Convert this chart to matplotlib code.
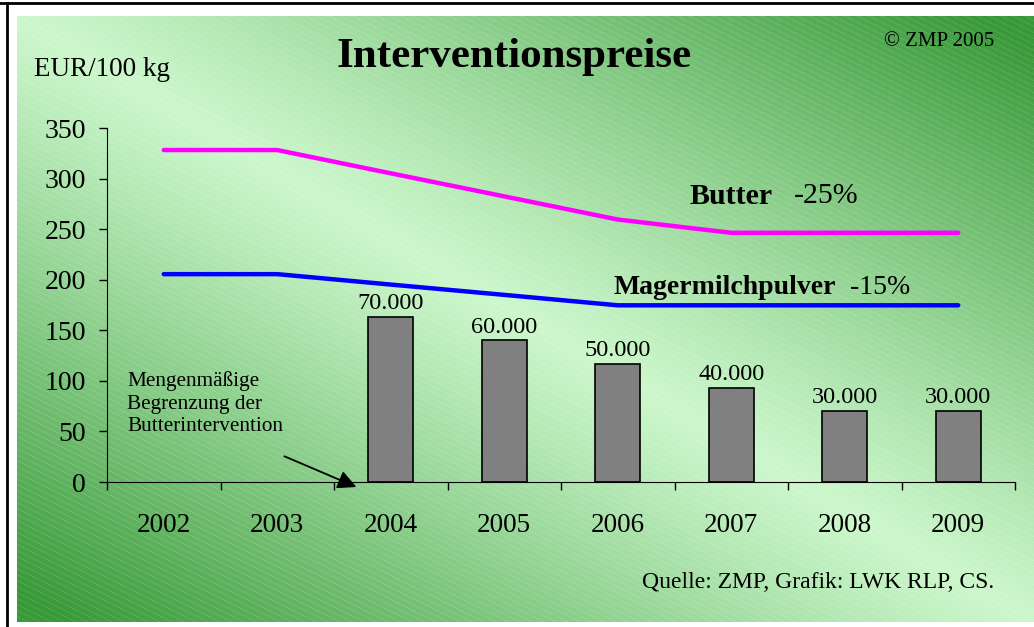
import matplotlib
matplotlib.use('Agg')
import matplotlib.pyplot as plt
import numpy as np
from matplotlib.lines import Line2D

plt.rcParams['font.family'] = ['Liberation Serif', 'DejaVu Serif']

# Data
years = ['2002', '2003', '2004', '2005', '2006', '2007', '2008', '2009']
butter = [328.2, 328.2, 305.2, 282.4, 259.5, 246.4, 246.4, 246.4]
smp = [205.5, 205.5, 195.2, 185.0, 174.7, 174.7, 174.7, 174.7]
bar_years = ['2004', '2005', '2006', '2007', '2008', '2009']
bar_tonnes = [70000, 60000, 50000, 40000, 30000, 30000]

W, H = 1034, 627
fig = plt.figure(figsize=(W / 100, H / 100), dpi=100)
fig.patch.set_facecolor('white')

# --- background: diagonal green gradient with faint stripes ---
bx0, by0, bx1, by1 = 17, 16, 1034, 622
bw, bh = bx1 - bx0, by1 - by0
xx, yy = np.meshgrid(np.arange(bw), np.arange(bh))
t = np.abs(xx / bw - yy / bh)
t = np.clip(t * 1.05, 0, 1) ** 1.1
light = np.array([0.80, 0.97, 0.80])
dark = np.array([0.22, 0.60, 0.22])
img = light + (dark - light) * t[..., None]
stripe = ((yy - 0.5 * xx).astype(int) % 6) == 0
img[stripe] = img[stripe] * 0.88 + 0.12
bg = fig.add_axes([bx0 / W, 1 - by1 / H, bw / W, bh / H])
bg.imshow(img, aspect='auto', interpolation='nearest')
bg.axis('off')

# frame lines
fig.add_artist(Line2D([0, 1], [1 - 3 / H, 1 - 3 / H], color='black', lw=2))
fig.add_artist(Line2D([6.5 / W, 6.5 / W], [0, 1 - 3 / H], color='black', lw=2))

# --- main axes ---
ax = fig.add_axes([107 / W, 1 - 482 / H, (1015 - 107) / W, (482 - 128) / H])
ax.patch.set_alpha(0)
x = np.arange(len(years))
ax.plot(x, butter, color='#ff00ff', lw=3.2, solid_capstyle='round', zorder=4)
ax.plot(x, smp, color='#0000ff', lw=3.2, solid_capstyle='round', zorder=4)
ax.set_xlim(-0.5, len(years) - 0.5)
ax.set_ylim(0, 350)
ax.set_yticks(np.arange(0, 351, 50))
ax.set_xticks(x)
ax.set_xticklabels(years)
ax.set_xticks(np.arange(-0.5, len(years), 1), minor=True)
ax.tick_params(axis='x', which='major', length=0, labelsize=19.5, pad=22)
ax.tick_params(axis='x', which='minor', length=6, width=1)
ax.tick_params(axis='y', length=6, width=1, labelsize=20, pad=9)
for s in ['top', 'right']:
    ax.spines[s].set_visible(False)

# bars on hidden secondary scale (tonnes)
ax2 = ax.twinx()
ax2.set_ylim(0, 150000)
ax2.axis('off')
bx = [years.index(y) for y in bar_years]
bars = ax2.bar(bx, bar_tonnes, width=0.4, color='#808080', edgecolor='black',
               linewidth=1.2, zorder=2)
for b, v in zip(bars, bar_tonnes):
    ax2.annotate(f'{v:,}'.replace(',', '.'), (b.get_x() + b.get_width() / 2, v),
                 xytext=(0, 2), textcoords='offset points', ha='center',
                 va='bottom', fontsize=17.5)
ax2.patch.set_alpha(0)
ax.set_zorder(ax2.get_zorder() + 1)

# arrow
ax.annotate('', xy=(1.72, -6), xytext=(1.04, 26.5),
            arrowprops=dict(arrowstyle='-|>', color='black', lw=1.3,
                            mutation_scale=28), annotation_clip=False)


def fx(px):
    return px / W


def fy(py):
    return 1 - py / H


fig.text(fx(514), fy(57), 'Interventionspreise', fontsize=31, fontweight='bold',
         ha='center', va='center')
fig.text(fx(34), fy(70), 'EUR/100 kg', fontsize=19.5, ha='left', va='center')
fig.text(fx(884), fy(41), '\u00a9 ZMP 2005', fontsize=15, ha='left', va='center')
fig.text(fx(690), fy(196), 'Butter', fontsize=21.5, fontweight='bold',
         ha='left', va='center')
fig.text(fx(794), fy(196), '-25%', fontsize=21.5, ha='left', va='center')
fig.text(fx(613), fy(287), 'Magermilchpulver', fontsize=20, fontweight='bold',
         ha='left', va='center')
fig.text(fx(850), fy(287), '-15%', fontsize=20, ha='left', va='center')
fig.text(fx(127), fy(404), 'Mengenm\u00e4\u00dfige\nBegrenzung der\nButterintervention',
         fontsize=15.3, ha='left', va='center', linespacing=1.25)
fig.text(fx(642), fy(583), 'Quelle: ZMP, Grafik: LWK RLP, CS.', fontsize=17,
         ha='left', va='center')

fig.savefig('out.png', dpi=100)
